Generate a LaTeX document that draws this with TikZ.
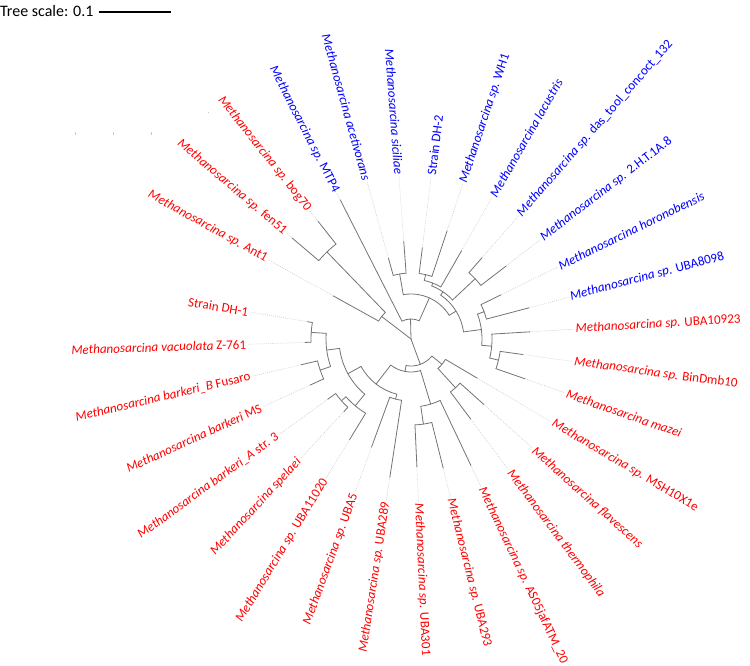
\documentclass[tikz,border=0pt]{standalone}
\usepackage{fontspec}
\setmainfont{Carlito}
\definecolor{tr}{RGB}{255,0,0}
\definecolor{tb}{RGB}{0,0,255}
\definecolor{brgray}{RGB}{115,115,115}
\definecolor{ldgray}{RGB}{200,200,200}
\tikzset{
  br/.style={draw=brgray, line width=0.8pt, line cap=round},
  ld/.style={draw=ldgray, line width=0.6pt, dash pattern=on 0.8pt off 1.2pt},
  lab/.style={font=\fontsize{13.1}{14}\selectfont, inner sep=0pt, outer sep=0pt},
}
\newcommand\Br[3]{\draw[br] (#1:#2) -- (#1:#3);}
\newcommand\Ar[3]{\draw[br] (#1:#3) arc[start angle=#1,end angle=#2,radius=#3];}
\newcommand\LfR[6]{\draw[br] (#2:#3) -- (#2:#4); \draw[ld] (#2:#4) -- (#2:163);
  \node[lab,text=#5,rotate=#2,anchor=west] (#1) at (#2:165) {#6};}
\newcommand\LfL[6]{\draw[br] (#2:#3) -- (#2:#4); \draw[ld] (#2:#4) -- (#2:163);
  \node[lab,text=#5,rotate=#2-180,anchor=east] (#1) at (#2:165) {#6};}
\begin{document}
\begin{tikzpicture}[x=1pt,y=1pt]
\useasboundingbox (-411,-326) rectangle (339,339);
% tree scale
\node[anchor=west,inner sep=0pt,font=\fontsize{16}{18}\selectfont] (ts) at (-411,328) {Tree scale: 0.1};
\coordinate (sb1) at (-312,327);
\coordinate (sb2) at (-240,327);
\draw[line width=2.2pt] (sb1) -- (sb2);
% faint artefacts
\draw[ldgray,line width=0.6pt] (-336,204) -- (-336,207);
\draw[ldgray,line width=0.6pt] (-298,204) -- (-298,207);
\draw[ldgray,line width=0.6pt] (-260,204) -- (-260,207);
\draw[ldgray,line width=0.6pt] (-203,227) -- (-202,227);
% ---- top clade
\Br{91.4}{0}{20}
\Ar{65.9}{116.95}{20}
\Br{65.9}{20}{45}
\Ar{31.8}{99.9}{45}
\Br{99.9}{45}{66}
\Ar{94.25}{105.6}{66}
\Br{31.8}{45}{53}
\Ar{7.7}{55.9}{53}
\Br{55.9}{53}{57}
\Ar{43.2}{68.7}{57}
\Br{68.7}{57}{60}
\Ar{60.2}{77.2}{60}
\Br{77.2}{60}{66}
\Ar{71.55}{82.9}{66}
\Br{43.2}{57}{88}
\Ar{37.5}{48.85}{88}
\Br{7.7}{53}{71}
\Ar{-5.1}{20.5}{71}
\Br{20.5}{71}{78}
\Ar{14.8}{26.15}{78}
\Br{-5.1}{71}{81}
\Ar{-13.6}{3.45}{81}
\Br{-13.6}{81}{90}
\Ar{-19.25}{-7.9}{90}
% ---- upper left clade
\Br{142.5}{0}{37}
\Ar{134}{151}{37}
\Br{134}{37}{121}
\Ar{128.3}{139.65}{121}
% ---- bottom clade
\Br{290.2}{0}{27}
\Ar{259.5}{320.8}{27}
\Br{259.5}{27}{33}
\Ar{232.2}{286.8}{33}
\Br{232.2}{33}{57}
\Ar{208.8}{255.6}{57}
\Br{208.8}{57}{72}
\Ar{187.5}{230.1}{72}
\Br{187.5}{72}{85}
\Ar{176.2}{198.9}{85}
\Br{176.2}{85}{100}
\Ar{170.5}{181.85}{100}
\Br{198.9}{85}{96}
\Ar{193.2}{204.55}{96}
\Br{230.1}{72}{87}
\Ar{221.6}{238.6}{87}
\Br{221.6}{87}{93}
\Ar{215.9}{227.25}{93}
\Br{255.6}{57}{62}
\Ar{249.95}{261.3}{62}
\Br{286.8}{33}{68}
\Ar{278.3}{295.35}{68}
\Br{278.3}{68}{86}
\Ar{272.65}{284}{86}
\Br{320.8}{27}{40}
\Ar{312.4}{329.4}{40}
\Br{312.4}{40}{66}
\Ar{306.7}{318.05}{66}
% ---- leaves
\LfL{l0}{170.5}{100}{105}{tr}{Strain DH-1}
\LfL{l1}{181.85}{100}{106}{tr}{\textit{Methanosarcina vacuolata} Z-761}
\LfL{l2}{193.2}{96}{113}{tr}{\textit{Methanosarcina barkeri\_B} Fusaro}
\LfL{l3}{204.55}{96}{111}{tr}{\textit{Methanosarcina barkeri} MS}
\LfL{l4}{215.9}{93}{103}{tr}{\textit{Methanosarcina barkeri\_A} str. 3}
\LfL{l5}{227.25}{93}{99}{tr}{\textit{Methanosarcina spelaei}}
\LfL{l6}{238.6}{87}{118}{tr}{\textit{Methanosarcina sp.} UBA11020}
\LfL{l7}{249.95}{62}{115}{tr}{\textit{Methanosarcina sp.} UBA5}
\LfL{l8}{261.3}{62}{140}{tr}{\textit{Methanosarcina sp.} UBA289}
\LfR{l9}{272.65}{86}{128}{tr}{\textit{Methanosarcina sp.} UBA301}
\LfR{l10}{284}{86}{133}{tr}{\textit{Methanosarcina sp.} UBA293}
\LfR{l11}{295.35}{68}{140}{tr}{\textit{Methanosarcina sp.} AS05jafATM\_20}
\LfR{l12}{306.7}{66}{100}{tr}{\textit{Methanosarcina thermophila}}
\LfR{l13}{318.05}{66}{98}{tr}{\textit{Methanosarcina flavescens}}
\LfR{l14}{329.4}{40}{77}{tr}{\textit{Methanosarcina sp.} MSH10X1e}
\LfR{l15}{340.75}{90}{121}{tr}{\textit{Methanosarcina mazei}}
\LfR{l16}{352.1}{90}{113}{tr}{\textit{Methanosarcina sp.} BinDmb10}
\LfR{l17}{3.45}{81}{119}{tr}{\textit{Methanosarcina sp.} UBA10923}
\LfR{l18}{14.8}{78}{122}{tb}{\textit{Methanosarcina sp.} UBA8098}
\LfR{l19}{26.15}{78}{100}{tb}{\textit{Methanosarcina horonobensis}}
\LfR{l20}{37.5}{88}{120}{tb}{\textit{Methanosarcina sp.} 2.H.T.1A.8}
\LfR{l21}{48.85}{88}{108}{tb}{\textit{Methanosarcina sp.} das\_tool\_concoct\_132}
\LfR{l22}{60.2}{60}{102}{tb}{\textit{Methanosarcina lacustris}}
\LfR{l23}{71.55}{66}{114}{tb}{\textit{Methanosarcina sp.} WH1}
\LfR{l24}{82.9}{66}{92}{tb}{Strain DH-2}
\LfL{l25}{94.25}{66}{98}{tb}{\textit{Methanosarcina siciliae}}
\LfL{l26}{105.6}{66}{84}{tb}{\textit{Methanosarcina acetivorans}}
\LfL{l27}{116.95}{20}{156}{tb}{\textit{Methanosarcina sp.} MTP4}
\LfL{l28}{128.3}{121}{150}{tr}{\textit{Methanosarcina sp.} bog70}
\LfL{l29}{139.65}{121}{156}{tr}{\textit{Methanosarcina sp.} fen51}
\LfL{l30}{151}{37}{89}{tr}{\textit{Methanosarcina sp.} Ant1}
\end{tikzpicture}
\end{document}
